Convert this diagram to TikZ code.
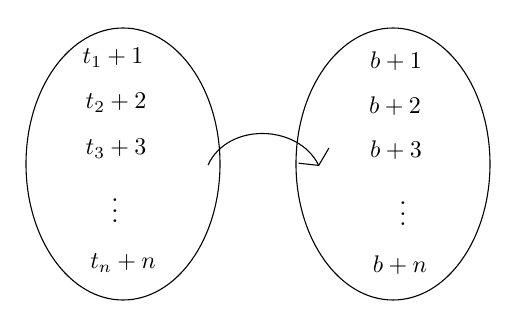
\documentclass[tikz,border=0pt]{standalone}
\usetikzlibrary{shapes.geometric,arrows.meta}
\begin{document}
\begin{tikzpicture}[x=1pt,y=-1pt,
  oval/.style={draw,ellipse,line width=1.1pt,inner sep=0pt},
  lbl/.style={scale=2.4,inner sep=0pt},
  dts/.style={scale=2.6,inner sep=0pt}]
\useasboundingbox (0,0) rectangle (507,323);
\node[oval,minimum width=194,minimum height=272] (L) at (123,164) {};
\node[oval,minimum width=194,minimum height=272] (R) at (393,164) {};
\node[lbl] (l1) at (113,58) {$t_1+1$};
\node[lbl] (l2) at (116,103) {$t_2+2$};
\node[lbl] (l3) at (116,149) {$t_3+3$};
\node[dts] (l4) at (115,203) {$\vdots$};
\node[lbl] (l5) at (123,263) {$t_n+n$};
\node[lbl] (r1) at (396,61) {$b+1$};
\node[lbl] (r2) at (395,106) {$b+2$};
\node[lbl] (r3) at (396,150) {$b+3$};
\node[dts] (r4) at (403,206) {$\vdots$};
\node[lbl] (r5) at (400,265) {$b+n$};
\coordinate (A) at (208,165);
\coordinate (B) at (319,166);
\draw[line width=1.1pt,-{Straight Barb[length=11pt,width=34pt]}] (A) .. controls (228,122) and (298,124) .. (B);
\end{tikzpicture}
\end{document}
